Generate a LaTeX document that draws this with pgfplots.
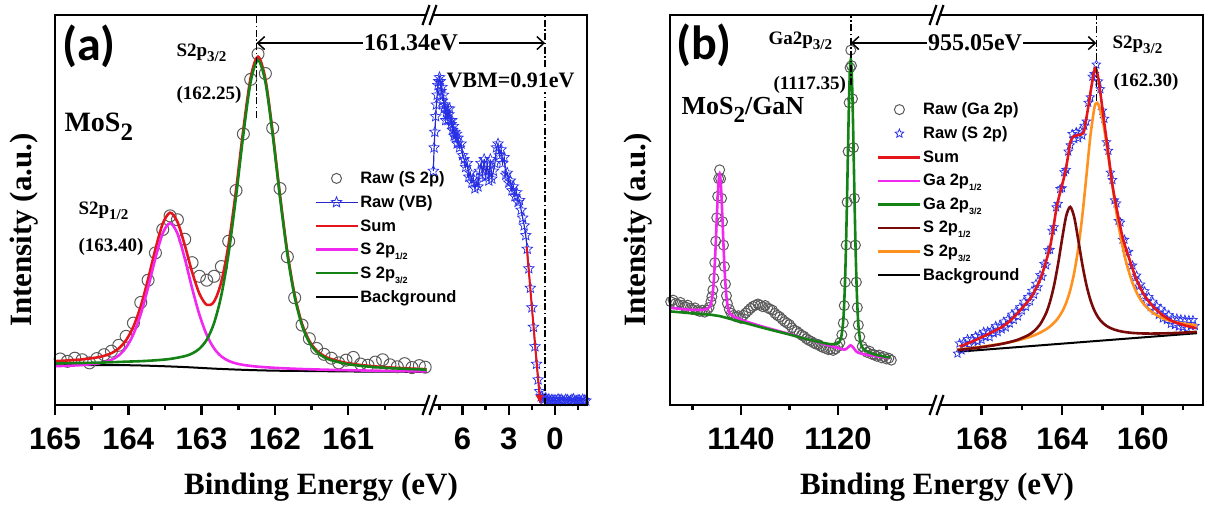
\documentclass[border=0pt]{standalone}
\usepackage{fontspec}
\setmainfont{Liberation Serif}
\setsansfont{Liberation Sans}
\newfontfamily\calib{Carlito}
\usepackage{pgfplots}
\pgfplotsset{compat=1.18}
\usetikzlibrary{arrows.meta}

\definecolor{cRed}{RGB}{228,22,28}
\definecolor{cMag}{RGB}{240,40,240}
\definecolor{cGreen}{RGB}{20,130,20}
\definecolor{cDark}{RGB}{120,10,10}
\definecolor{cOrange}{RGB}{255,145,30}
\definecolor{cBlue}{RGB}{40,50,235}
\definecolor{cVB}{RGB}{40,40,200}
\definecolor{cGray}{RGB}{90,90,90}

% open five-pointed star
\pgfdeclareplotmark{ostar}{%
  \pgfpathmoveto{\pgfpointpolar{90}{\pgfplotmarksize}}%
  \pgfpathlineto{\pgfpointpolar{126}{0.45\pgfplotmarksize}}%
  \pgfpathlineto{\pgfpointpolar{162}{\pgfplotmarksize}}%
  \pgfpathlineto{\pgfpointpolar{198}{0.45\pgfplotmarksize}}%
  \pgfpathlineto{\pgfpointpolar{234}{\pgfplotmarksize}}%
  \pgfpathlineto{\pgfpointpolar{270}{0.45\pgfplotmarksize}}%
  \pgfpathlineto{\pgfpointpolar{306}{\pgfplotmarksize}}%
  \pgfpathlineto{\pgfpointpolar{342}{0.45\pgfplotmarksize}}%
  \pgfpathlineto{\pgfpointpolar{18}{\pgfplotmarksize}}%
  \pgfpathlineto{\pgfpointpolar{54}{0.45\pgfplotmarksize}}%
  \pgfpathclose
  \pgfusepathqstroke}

\newcommand{\sub}[1]{\raisebox{-5pt}{\fontsize{9}{9}\selectfont #1}\rule[-11pt]{0pt}{1pt}}
\newcommand{\lsub}[1]{\raisebox{-5pt}{\fontsize{15}{15}\selectfont #1}}

\pgfplotsset{
  panel/.style={scale only axis, height=390pt, ymin=0, ymax=100, ytick=\empty,
    x dir=reverse, axis line style={draw=none}, tick align=outside, xtick pos=left,
    major tick length=10pt, minor tick length=5pt,
    tick style={black, line width=2.6pt},
    xticklabel style={font=\sffamily\bfseries\fontsize{31}{31}\selectfont, yshift=-9pt},
    clip mode=individual,
    legend image code/.code={\draw[mark repeat=2,mark phase=2,##1] plot coordinates {(0pt,0pt) (21pt,0pt) (42pt,0pt)};},
    legend cell align=left},
  fit/.style={line width=2.6pt, no markers, smooth, forget plot},
  leg/.style={draw=none, fill=none, inner sep=0pt, row sep=5.5pt,
    font=\sffamily\bfseries\fontsize{16.5}{18}\selectfont, nodes={inner sep=1.5pt}},
}
\tikzset{arr/.style={line width=1.5pt, {Straight Barb[length=7pt,width=13pt]}-{Straight Barb[length=7pt,width=13pt]}},
  ddot/.style={line width=1.5pt, dash pattern=on 7pt off 2.5pt on 1.5pt off 2.5pt}}

\newcommand{\brk}[1]{%
  \fill[white] (#1) ++(-6.5,-9.5) -- ++(5,0) -- ++(7,19) -- ++(-5,0) -- cycle;
  \draw[line width=2.2pt] (#1) ++(-7.5,-10) -- ++(7,20);
  \draw[line width=2.2pt] (#1) ++(-0.5,-10) -- ++(7,20);}

\begin{document}
\begin{tikzpicture}[x=1pt,y=1pt]
\path[use as bounding box] (0,0) rectangle (1219,517);

%% ---------------- panel (a), S 2p part ----------------
\begin{axis}[panel, name=a1, at={(55pt,112pt)}, anchor=south west, width=375pt,
  xmin=159.884, xmax=165,
  xtick={165,164,163,162,161}, xticklabels={165,164,163,162,161},
  minor xtick={164.5,163.5,162.5,161.5,160.5},
  legend style={leg, row sep=7.5pt, at={(0.6907,0.6026)}, anchor=north west}]
\addplot[black, line width=2pt, smooth, forget plot] coordinates {
 (165.03,10.3) (164.5,10.25) (164.0,10.2) (163.6,10.0) (163.2,9.7) (162.8,9.3)
 (162.4,9.0) (162.0,8.8) (161.5,8.7) (161.0,8.6) (160.5,8.55) (159.93,8.5)};
\addplot[only marks, mark=o, mark size=6pt, cGray, line width=1pt, forget plot] coordinates {
 (165.03,11.5) (164.93,11.8) (164.83,11.2) (164.73,12.0) (164.63,11.6) (164.53,10.8)
 (164.43,11.9) (164.33,12.9) (164.23,13.8) (164.13,15.3) (164.03,17.6) (163.93,21.0)
 (163.83,26.3) (163.73,32.0) (163.63,39.0) (163.53,45.0) (163.43,48.5) (163.33,47.5)
 (163.23,42.5) (163.13,36.5) (163.03,33.0) (162.93,32.0) (162.83,33.0) (162.73,35.5)
 (162.63,42.0) (162.53,55.0) (162.43,69.5) (162.33,83.5) (162.23,90.0) (162.13,85.0)
 (162.03,71.0) (161.93,55.5) (161.83,38.0) (161.73,27.5) (161.63,20.5) (161.53,17.0)
 (161.43,14.5) (161.33,13.0) (161.23,12.0) (161.13,10.8) (161.03,11.5) (160.93,12.2)
 (160.83,10.5) (160.73,10.2) (160.63,11.0) (160.53,11.6) (160.43,10.3) (160.33,9.8)
 (160.23,10.6) (160.13,9.6) (160.03,10.1) (159.95,9.7)};
\addplot[fit, cRed] coordinates {
 (165.03,11.22) (164.83,11.42) (164.63,11.70) (164.43,12.18) (164.33,12.61) (164.23,13.29)
 (164.13,14.49) (164.03,16.62) (163.93,20.11) (163.83,25.36) (163.73,32.28) (163.63,39.96)
 (163.53,46.50) (163.43,49.31) (163.33,46.99) (163.23,41.02) (163.13,34.14) (163.03,28.55)
 (162.93,25.69) (162.83,26.50) (162.73,31.65) (162.63,41.42) (162.53,55.16) (162.43,70.75)
 (162.33,84.02) (162.23,89.32) (162.13,83.62) (162.03,69.91) (161.93,53.77) (161.83,39.24)
 (161.73,28.19) (161.63,20.84) (161.53,16.43) (161.43,13.96) (161.33,12.58) (161.23,11.76)
 (161.03,10.80) (160.83,10.25) (160.63,9.89) (160.43,9.62) (160.13,9.33) (159.93,9.18)};
\addplot[fit, cMag] coordinates {
 (165.03,9.95) (164.83,10.06) (164.63,10.25) (164.43,10.63) (164.33,10.98) (164.23,11.59)
 (164.13,12.70) (164.03,14.74) (163.93,18.16) (163.83,23.31) (163.73,30.11) (163.63,37.65)
 (163.53,44.03) (163.43,46.62) (163.33,43.99) (163.23,37.58) (163.13,30.00) (163.03,23.17)
 (162.93,17.98) (162.83,14.52) (162.73,12.45) (162.63,11.30) (162.53,10.66) (162.43,10.27)
 (162.33,10.02) (162.23,9.82) (162.13,9.68) (162.03,9.56) (161.93,9.46) (161.83,9.37)
 (161.73,9.29) (161.63,9.22) (161.53,9.17) (161.43,9.11) (161.33,9.06) (161.23,9.01)
 (161.03,8.93) (160.83,8.86) (160.63,8.79) (160.43,8.74) (160.13,8.65) (159.93,8.61)};
\addplot[fit, cGreen] coordinates {
 (165.03,10.68) (164.83,10.73) (164.63,10.78) (164.43,10.85) (164.23,10.96) (164.03,11.11)
 (163.83,11.24) (163.63,11.46) (163.43,11.81) (163.23,12.52) (163.13,13.20) (163.03,14.43)
 (162.93,16.74) (162.83,20.99) (162.73,28.19) (162.63,39.09) (162.53,53.46) (162.43,69.42)
 (162.33,82.92) (162.23,88.40) (162.13,82.82) (162.03,69.22) (161.93,53.16) (161.83,38.70)
 (161.73,27.71) (161.63,20.41) (161.53,16.04) (161.43,13.61) (161.33,12.26) (161.23,11.47)
 (161.03,10.56) (160.83,10.04) (160.63,9.71) (160.43,9.46) (160.13,9.20) (159.93,9.06)};
\addlegendimage{only marks, mark=o, mark size=5pt, cGray, line width=1pt}
\addlegendimage{cVB, line width=1.5pt, mark=ostar, mark size=5.5pt, mark options={cBlue, line width=0.8pt}}
\addlegendimage{cRed, line width=2.6pt}
\addlegendimage{cMag, line width=2.6pt}
\addlegendimage{cGreen, line width=2.6pt}
\addlegendimage{black, line width=2.6pt}
\legend{Raw (S 2p), Raw (VB), Sum, S 2p\sub{1/2}, S 2p\sub{3/2}, Background}
\draw[ddot] (axis cs:162.25,73.6) -- (axis cs:162.25,100);
\coordinate (pA) at (axis cs:162.25,92.8);
\end{axis}

%% ---------------- panel (a), valence band part ----------------
\begin{axis}[panel, name=a2, at={(430pt,112pt)}, anchor=south west, width=157pt,
  xmin=-2.078, xmax=8.117,
  xtick={6,3,0}, xticklabels={6,3,0}, minor xtick={7.5,4.5,1.5,-1.5}]
\addplot[cVB, line width=1.2pt, mark=ostar, mark size=5.5pt, mark options={cBlue, line width=0.7pt}] coordinates {
 (7.90,60) (7.85,66) (7.80,70) (7.75,74) (7.70,77) (7.65,79.5) (7.60,82) (7.55,83)
 (7.50,84) (7.45,83) (7.40,80.5) (7.35,81.5) (7.30,78) (7.25,79.5) (7.20,76) (7.15,77)
 (7.10,73) (7.05,75) (7.00,76) (6.95,73) (6.90,74.5) (6.85,76) (6.80,73) (6.75,72)
 (6.70,73) (6.65,70.5) (6.60,71.5) (6.55,69) (6.50,70) (6.45,68.5) (6.40,69.5) (6.35,67)
 (6.30,68.5) (6.20,66) (6.10,67) (6.00,64) (5.90,63) (5.80,61) (5.70,62) (5.60,58.5)
 (5.50,59.5) (5.40,57) (5.30,58) (5.20,55.5) (5.10,57) (5.00,56) (4.90,60) (4.80,62)
 (4.70,59) (4.60,63) (4.50,58.5) (4.40,62) (4.30,57.5) (4.20,63) (4.10,58) (4.00,60)
 (3.90,62) (3.80,66) (3.70,67) (3.60,64) (3.50,65.5) (3.40,62) (3.30,63.5) (3.20,59)
 (3.10,59.5) (3.00,57) (2.90,57.5) (2.80,55) (2.70,56) (2.60,53.5) (2.50,54.5) (2.40,52)
 (2.30,52.5) (2.20,50) (2.10,48) (2.00,46) (1.90,43.5) (1.80,40) (1.70,35) (1.60,30)
 (1.50,25) (1.40,20) (1.30,15) (1.20,10.5) (1.10,6.5) (1.00,3.5) (0.90,2.2) (0.80,1.8)
 (0.70,1.5) (0.60,1.8) (0.50,1.2) (0.40,1.5) (0.30,1.0) (0.20,1.4) (0.10,1.1) (0.00,1.3)
 (-0.10,1.0) (-0.20,1.5) (-0.30,1.2) (-0.40,1.4) (-0.50,1.1) (-0.60,1.0) (-0.70,1.4)
 (-0.80,1.3) (-0.90,1.0) (-1.00,1.1) (-1.10,1.4) (-1.20,1.5) (-1.30,1.1) (-1.40,1.0)
 (-1.50,1.3) (-1.60,1.2) (-1.70,1.0) (-1.80,1.4) (-1.90,1.2) (-2.00,1.1)};
\addplot[cRed, line width=2pt, -{Latex[length=10pt,width=8pt]}] coordinates {(1.84,40.6) (0.95,0)};
\draw[ddot] (axis cs:0.65,0) -- (axis cs:0.65,80.3);
\draw[ddot] (axis cs:0.65,86.6) -- (axis cs:0.65,100);
\coordinate (qA) at (axis cs:0.65,92.8);
\end{axis}

%% ---------------- panel (b), Ga 2p part ----------------
\begin{axis}[panel, name=b1, at={(670pt,112pt)}, anchor=south west, width=267pt,
  xmin=1099.57, xmax=1154.64,
  xtick={1140,1120}, xticklabels={1140,1120}, minor xtick={1150,1130,1110},
  legend style={leg, row sep=7.5pt, at={(0.775,0.779)}, anchor=north west}]
\addplot[only marks, mark=o, mark size=5pt, cGray, line width=1pt, forget plot] coordinates {
 (1154.5,26.5) (1154.0,26.9) (1153.5,26.0) (1153.0,25.8) (1152.5,26.3) (1152.0,25.5)
 (1151.5,25.2) (1151.0,25.6) (1150.5,24.8) (1150.0,24.5) (1149.5,24.9) (1149.0,24.2)
 (1148.5,24.0) (1148.0,24.3) (1147.5,23.8) (1147.0,24.3) (1146.6,25.0) (1146.2,26.5)
 (1146.0,27.8) (1145.8,29.5) (1145.6,32.5) (1145.4,36.5) (1145.2,42.0) (1145.0,48.0)
 (1144.8,53.5) (1144.6,58.0) (1144.4,60.3) (1144.2,58.0) (1144.0,53.0) (1143.8,47.0)
 (1143.6,41.0) (1143.4,35.5) (1143.2,31.0) (1143.0,28.0) (1142.8,26.0) (1142.4,24.5)
 (1142.0,23.5) (1141.5,23.0) (1141.0,22.6) (1140.5,22.9) (1140.0,22.2) (1139.5,23.0)
 (1139.0,23.6) (1138.5,24.2) (1138.0,24.8) (1137.5,25.3) (1137.0,25.6) (1136.5,25.9)
 (1136.0,25.6) (1135.5,25.2) (1135.0,25.5) (1134.5,24.9) (1134.0,24.6) (1133.5,24.3)
 (1133.0,23.5) (1132.5,23.0) (1132.0,22.6) (1131.5,22.0) (1131.0,21.4) (1130.5,21.0)
 (1130.0,20.6) (1129.5,19.8) (1129.0,19.2) (1128.5,18.9) (1128.0,18.4) (1127.5,17.9)
 (1127.0,17.6) (1126.5,17.0) (1126.0,16.6) (1125.5,16.3) (1125.0,15.9) (1124.5,15.6)
 (1124.0,15.5) (1123.5,15.0) (1123.0,14.7) (1122.5,14.5) (1122.0,14.2) (1121.5,14.3)
 (1121.0,14.0) (1120.5,14.4) (1120.0,15.0) (1119.6,16.0) (1119.2,18.0) (1118.9,21.0)
 (1118.7,25.5) (1118.5,31.5) (1118.3,41.0) (1118.1,52.0) (1117.9,65.0) (1117.7,77.5)
 (1117.5,86.5) (1117.35,91.0) (1117.2,87.0) (1117.0,78.5) (1116.8,66.0) (1116.6,53.0)
 (1116.4,41.0) (1116.2,31.5) (1116.0,25.0) (1115.8,20.5) (1115.5,17.5) (1115.0,15.0)
 (1114.5,14.2) (1114.0,13.5) (1113.5,13.8) (1113.0,13.0) (1112.5,12.9) (1112.0,12.5)
 (1111.5,12.8) (1111.0,12.1) (1110.5,12.4) (1110.0,11.8) (1109.5,12.0) (1109.0,11.5)};
\addplot[fit, cMag] coordinates {
 (1154.6,24.9) (1152.0,24.6) (1150.0,24.4) (1148.0,24.4) (1147.0,24.6) (1146.4,25.3)
 (1146.0,27.1) (1145.8,29.0) (1145.6,32.0) (1145.4,36.2) (1145.2,41.6) (1145.0,47.6)
 (1144.8,53.4) (1144.6,57.7) (1144.4,59.3) (1144.2,57.5) (1144.0,53.0) (1143.8,47.0)
 (1143.6,40.8) (1143.4,35.3) (1143.2,30.9) (1143.0,27.8) (1142.8,25.8) (1142.4,23.8)
 (1141.9,23.0) (1141.4,22.6) (1140.4,22.1) (1139.4,21.6) (1137.4,20.8) (1134.4,19.7)
 (1130.0,18.2) (1125.0,16.4) (1120.0,14.6) (1118.6,14.2) (1117.9,14.8) (1117.4,15.3)
 (1116.8,14.7) (1116.2,13.7) (1115.0,13.1) (1112.0,12.5) (1109.2,12.0)};
\addplot[fit, cGreen] coordinates {
 (1154.6,24.0) (1150.0,23.5) (1146.0,23.1) (1144.4,22.8) (1140.0,21.33) (1135.0,19.64)
 (1130.0,18.07) (1127.35,17.2) (1125.0,16.46) (1122.35,15.77) (1121.35,15.58) (1120.35,15.7)
 (1119.85,15.96) (1119.35,17.25) (1118.95,20.94) (1118.75,25.01) (1118.55,31.3) (1118.35,40.17)
 (1118.15,51.45) (1117.95,64.06) (1117.75,76.22) (1117.55,85.28) (1117.35,88.6) (1117.15,85.08)
 (1116.95,75.87) (1116.75,63.61) (1116.55,50.86) (1116.35,39.49) (1116.15,30.53) (1115.95,24.15)
 (1115.75,19.99) (1115.35,16.02) (1114.85,14.53) (1114.35,13.97) (1113.35,13.35) (1112.35,12.94)
 (1110.35,12.39) (1109.2,12.15)};
\addlegendimage{only marks, mark=o, mark size=5pt, cGray, line width=1pt}
\addlegendimage{only marks, mark=ostar, mark size=4.5pt, cBlue, line width=0.8pt}
\addlegendimage{cRed, line width=2.6pt}
\addlegendimage{cMag, line width=2.6pt}
\addlegendimage{cGreen, line width=2.6pt}
\addlegendimage{cDark, line width=2.6pt}
\addlegendimage{cOrange, line width=2.6pt}
\addlegendimage{black, line width=2.6pt}
\legend{Raw (Ga 2p), Raw (S 2p), Sum, Ga 2p\sub{1/2}, Ga 2p\sub{3/2}, S 2p\sub{1/2}, S 2p\sub{3/2}, Background}
\draw[ddot] (axis cs:1117.35,82) -- (axis cs:1117.35,100);
\coordinate (pB) at (axis cs:1117.35,92.8);
\end{axis}

%% ---------------- panel (b), S 2p part ----------------
\begin{axis}[panel, name=b2, at={(937pt,112pt)}, anchor=south west, width=266pt,
  xmin=157.0, xmax=170.22,
  xtick={168,164,160}, xticklabels={168,164,160}, minor xtick={166,162,158}]
\addplot[black, line width=2pt, forget plot] coordinates {(169.2,13.65) (157.3,18.41)};
\addplot[only marks, mark=ostar, mark size=4.5pt, cBlue, line width=0.7pt, forget plot] coordinates {
 (169.2,13.2) (169.1,15.8) (169.0,14.0) (168.9,16.0) (168.8,14.6) (168.7,16.9) (168.6,15.5)
 (168.5,16.9) (168.4,15.5) (168.3,17.7) (168.2,16.3) (168.1,18.0) (168.0,16.7) (167.9,18.8)
 (167.8,17.5) (167.7,18.9) (167.6,17.4) (167.5,19.2) (167.4,18.4) (167.3,20.3) (167.2,18.7)
 (167.1,20.4) (167.0,19.4) (166.9,21.4) (166.8,19.9) (166.7,22.0) (166.6,20.9) (166.5,23.2)
 (166.4,21.8) (166.3,24.0) (166.2,22.7) (166.1,25.1) (166.0,24.2) (165.9,26.5) (165.8,25.2)
 (165.7,27.7) (165.6,26.6) (165.5,29.3) (165.4,28.3) (165.3,31.1) (165.2,30.2) (165.1,33.3)
 (165.0,32.9) (164.9,36.2) (164.8,35.8) (164.7,39.7) (164.6,39.8) (164.5,44.7) (164.4,45.6)
 (164.3,50.7) (164.2,51.6) (164.1,55.4) (164.0,55.6) (163.9,59.7) (163.8,60.3) (163.7,65.0)
 (163.6,66.6) (163.5,69.5) (163.4,68.2) (163.3,70.0) (163.2,68.4) (163.1,70.3) (163.0,69.1)
 (162.9,71.6) (162.8,72.7) (162.7,77.5) (162.6,78.9) (162.5,84.2) (162.4,84.9) (162.3,87.3)
 (162.2,83.0) (162.1,81.0) (162.0,75.5) (161.9,73.4) (161.8,67.4) (161.7,65.2) (161.6,59.6)
 (161.5,57.7) (161.4,52.5) (161.3,51.7) (161.2,47.2) (161.1,46.8) (161.0,42.4) (160.9,42.4)
 (160.8,39.1) (160.7,39.3) (160.6,35.6) (160.5,35.8) (160.4,32.6) (160.3,33.2) (160.2,30.4)
 (160.1,30.9) (160.0,28.0) (159.9,29.2) (159.8,26.5) (159.7,27.7) (159.6,25.1) (159.5,26.5)
 (159.4,24.2) (159.3,25.4) (159.2,23.1) (159.1,24.7) (159.0,22.2) (158.9,23.7) (158.8,21.8)
 (158.7,23.1) (158.6,20.8) (158.5,22.2) (158.4,20.5) (158.3,22.2) (158.2,20.1) (158.1,22.0)
 (158.0,20.0) (157.9,21.9) (157.8,19.6) (157.7,21.8) (157.6,20.3) (157.5,21.8) (157.4,20.3)};
\addplot[fit, cOrange] coordinates {
 (169.2,14.22) (168.7,14.51) (168.2,14.82) (167.7,15.17) (167.2,15.56) (166.7,16.02)
 (166.2,16.58) (165.7,17.30) (165.4,17.85) (165.1,18.54) (164.8,19.41) (164.6,20.16)
 (164.4,21.09) (164.2,22.31) (164.0,23.94) (163.8,26.20) (163.6,29.41) (163.4,33.94)
 (163.2,40.19) (163.0,48.42) (162.8,58.44) (162.6,68.81) (162.4,76.16) (162.3,77.41)
 (162.2,77.04) (162.0,73.44) (161.8,67.17) (161.6,59.81) (161.4,52.58) (161.2,46.12)
 (161.0,40.67) (160.8,36.22) (160.5,31.25) (160.2,27.86) (159.9,25.60) (159.5,23.68)
 (159.0,22.25) (158.5,21.41) (158.0,20.89) (157.5,20.57) (157.3,20.48)};
\addplot[fit, cDark] coordinates {
 (169.2,14.08) (168.7,14.37) (168.2,14.68) (167.7,15.05) (167.2,15.47) (166.7,16.01)
 (166.2,16.75) (165.7,17.88) (165.4,18.95) (165.1,20.64) (164.8,23.53) (164.6,26.54)
 (164.4,30.73) (164.2,36.24) (164.0,42.67) (163.8,48.45) (163.6,50.79) (163.4,48.14)
 (163.2,42.34) (163.0,36.12) (162.8,30.91) (162.6,27.00) (162.4,24.25) (162.2,22.39)
 (162.0,21.15) (161.8,20.31) (161.6,19.73) (161.4,19.32) (161.2,19.02) (161.0,18.80)
 (160.8,18.64) (160.5,18.48) (160.2,18.38) (159.9,18.33) (159.5,18.32) (159.0,18.36)
 (158.5,18.44) (158.0,18.56) (157.5,18.69) (157.3,18.75)};
\addplot[fit, cRed] coordinates {
 (169.1,15.0) (168.5,16.2) (167.59,18.4) (167.0,20.0) (166.5,22.0) (165.93,25.2)
 (165.5,28.0) (165.1,32.1) (164.85,36.0) (164.6,40.6) (164.45,45.0) (164.27,50.8)
 (164.05,55.5) (163.86,59.4) (163.7,64.0) (163.61,67.1) (163.45,68.8) (163.2,69.2)
 (162.95,69.7) (162.85,72.0) (162.7,76.5) (162.55,81.5) (162.37,86.3) (162.25,85.0)
 (162.12,80.8) (161.95,74.0) (161.79,67.9) (161.62,61.0) (161.46,55.1) (161.2,48.0)
 (160.96,42.3) (160.6,36.5) (160.3,32.1) (159.9,28.0) (159.47,25.2) (159.0,23.0)
 (158.48,21.4) (157.9,20.4) (157.32,19.7)};
\draw[ddot] (axis cs:162.30,78) -- (axis cs:162.30,100);
\coordinate (qB) at (axis cs:162.30,92.8);
\end{axis}

%% frames and axis breaks
\draw[line width=2.8pt] (a1.south west) rectangle (a2.north east);
\draw[line width=2.8pt] (b1.south west) rectangle (b2.north east);
\brk{a1.south east}\brk{a1.north east}\brk{b1.south east}\brk{b1.north east}

%% energy separation arrows
\draw[arr] (pA) -- (qA);
\node[fill=white, inner sep=1pt, font=\bfseries\fontsize{24}{24}\selectfont] at (411,474) {161.34eV};
\draw[arr] (pB) -- (qB);
\node[fill=white, inner sep=1pt, font=\bfseries\fontsize{24}{24}\selectfont] at (975,474) {955.05eV};

%% annotations
\node[font=\calib\bfseries\fontsize{48}{48}\selectfont] at (89,471) {(a)};
\node[font=\calib\bfseries\fontsize{48}{48}\selectfont] at (704,472) {(b)};
\node[anchor=west, font=\bfseries\fontsize{28}{28}\selectfont] at (61,390) {MoS\raisebox{-9pt}{\fontsize{25}{25}\selectfont 2}};
\node[anchor=west, font=\bfseries\fontsize{26}{26}\selectfont] at (678,407) {MoS\raisebox{-8pt}{\fontsize{23}{23}\selectfont 2}/GaN};
\node[anchor=west, font=\bfseries\fontsize{19}{19}\selectfont] at (173,464) {S2p\lsub{3/2}};
\node[anchor=west, font=\bfseries\fontsize{19}{19}\selectfont] at (173,422) {(162.25)};
\node[anchor=west, font=\bfseries\fontsize{19}{19}\selectfont] at (75,306) {S2p\lsub{1/2}};
\node[anchor=west, font=\bfseries\fontsize{19}{19}\selectfont] at (75,270) {(163.40)};
\node[anchor=west, font=\bfseries\fontsize{22}{22}\selectfont] at (443,437) {VBM=0.91eV};
\node[anchor=west, font=\bfseries\fontsize{19}{19}\selectfont] at (765,476) {Ga2p\lsub{3/2}};
\node[anchor=west, font=\bfseries\fontsize{19}{19}\selectfont] at (770,432) {(1117.35)};
\node[anchor=west, font=\bfseries\fontsize{19}{19}\selectfont] at (1109,472) {S2p\lsub{3/2}};
\node[anchor=west, font=\bfseries\fontsize{19}{19}\selectfont] at (1110,435) {(162.30)};

%% axis titles
\node[font=\bfseries\fontsize{31}{31}\selectfont] at (321,30) {Binding Energy (eV)};
\node[font=\bfseries\fontsize{31}{31}\selectfont] at (937,30) {Binding Energy (eV)};
\node[rotate=90, font=\bfseries\fontsize{31}{31}\selectfont] at (24,287) {Intensity (a.u.)};
\node[rotate=90, font=\bfseries\fontsize{31}{31}\selectfont] at (638,287) {Intensity (a.u.)};
\end{tikzpicture}
\end{document}
